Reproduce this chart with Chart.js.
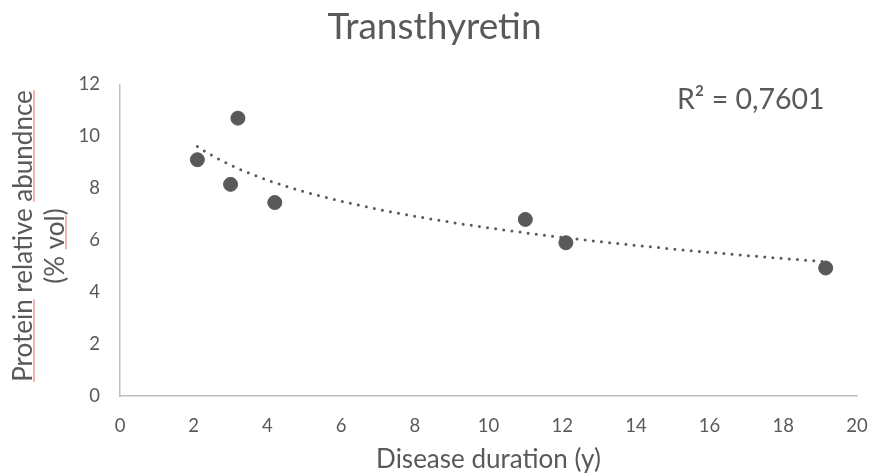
<!DOCTYPE html>
<html>
<head>
<meta charset="utf-8">
<title>Transthyretin</title>
<script src="https://cdn.jsdelivr.net/npm/chart.js@4"></script>
<style>
  html, body { margin: 0; padding: 0; background: #fff; }
  #chart { display: block; }
</style>
</head>
<body>
<canvas id="chart" width="874" height="475"></canvas>
<script>
// disease duration (years) vs. transthyretin abundance (% vol)
const durations = [2.1, 3.0, 3.2, 4.2, 11.0, 12.1, 19.15];
const abundance = [9.1, 8.15, 10.7, 7.45, 6.8, 5.9, 4.93];
const xRange = [0, 20];
const yRange = [0, 12];
const tickStep = 2;
const rSquaredLabel = 'R² = 0,7601';
const yTitleLines = ['Protein relative abundnce', '(% vol)'];
// words flagged by the spell checker (red underline)
const flaggedWords = [['Protein', 'abundnce'], ['vol']];

const TEXT = '#595959';
const FONT = 'Lato';

// least squares fit of y = a*ln(x) + b
function logFit(xs, ys) {
  const lx = xs.map(Math.log);
  const n = xs.length;
  const mx = lx.reduce((s, v) => s + v, 0) / n;
  const my = ys.reduce((s, v) => s + v, 0) / n;
  let sxy = 0, sxx = 0;
  for (let i = 0; i < n; i++) {
    sxy += (lx[i] - mx) * (ys[i] - my);
    sxx += (lx[i] - mx) * (lx[i] - mx);
  }
  const a = sxy / sxx;
  return { a, b: my - a * mx };
}

const fit = logFit(durations, abundance);
const xMin = Math.min(...durations);
const xMax = Math.max(...durations);
const trendPoints = [];
for (let i = 0; i <= 80; i++) {
  const x = xMin + (xMax - xMin) * i / 80;
  trendPoints.push({ x, y: fit.a * Math.log(x) + fit.b });
}

const extraText = {
  id: 'extraText',
  afterDraw(chart) {
    const { ctx } = chart;
    ctx.save();
    ctx.fillStyle = TEXT;

    // trendline label
    ctx.font = `28.5px ${FONT}`;
    ctx.textAlign = 'left';
    ctx.textBaseline = 'alphabetic';
    ctx.fillText(rSquaredLabel, 677, 109);

    // y axis title, two lines, rotated
    ctx.font = `26px ${FONT}`;
    const baselines = [32, 64];
    const centers = [236, 246];
    yTitleLines.forEach((line, i) => {
      ctx.save();
      ctx.translate(baselines[i], centers[i]);
      ctx.rotate(-Math.PI / 2);
      ctx.textAlign = 'left';
      const w = ctx.measureText(line).width;
      const start = -w / 2;
      ctx.fillStyle = TEXT;
      ctx.fillText(line, start, 0);
      ctx.strokeStyle = '#F06060';
      ctx.lineWidth = 1;
      flaggedWords[i].forEach(word => {
        const at = line.indexOf(word);
        const x0 = start + ctx.measureText(line.slice(0, at)).width;
        const x1 = x0 + ctx.measureText(word).width;
        ctx.beginPath();
        ctx.moveTo(x0, 2);
        ctx.lineTo(x1, 2);
        ctx.stroke();
      });
      ctx.restore();
    });
    ctx.restore();
  }
};

new Chart(document.getElementById('chart'), {
  type: 'scatter',
  data: {
    datasets: [
      {
        label: 'Transthyretin',
        data: durations.map((x, i) => ({ x, y: abundance[i] })),
        pointRadius: 7,
        pointBorderWidth: 1,
        backgroundColor: TEXT,
        borderColor: TEXT,
        order: 1
      },
      {
        label: 'Log trend',
        data: trendPoints,
        showLine: true,
        pointRadius: 0,
        borderColor: TEXT,
        borderWidth: 3,
        borderDash: [0, 8.2],
        borderCapStyle: 'round',
        tension: 0,
        order: 2
      }
    ]
  },
  options: {
    responsive: false,
    animation: false,
    layout: { padding: { left: 0, right: 5, top: 0, bottom: 0 } },
    plugins: {
      legend: { display: false },
      tooltip: { enabled: false },
      title: {
        display: true,
        text: 'Transthyretin',
        color: TEXT,
        font: { family: FONT, size: 37, weight: 'normal', lineHeight: 1.2 },
        padding: { top: 5, bottom: 35 }
      }
    },
    scales: {
      x: {
        type: 'linear',
        min: xRange[0],
        max: xRange[1],
        afterFit: s => {
          s.height = 79;
          s.paddingLeft = 0;
          s.paddingRight = 17;
        },
        grid: { display: false, drawTicks: false },
        border: { display: true, color: '#BFBFBF', width: 1.5 },
        ticks: {
          stepSize: tickStep,
          padding: 19,
          color: TEXT,
          font: { family: FONT, size: 18.5 }
        },
        title: {
          display: true,
          text: 'Disease duration (y)',
          color: TEXT,
          font: { family: FONT, size: 26, lineHeight: 1.2 },
          padding: { top: 0, bottom: 0 }
        }
      },
      y: {
        type: 'linear',
        min: yRange[0],
        max: yRange[1],
        afterFit: s => { s.width = 120; },
        grid: { display: false, drawTicks: false },
        border: { display: true, color: '#BFBFBF', width: 1.5 },
        ticks: {
          stepSize: tickStep,
          padding: 20,
          color: TEXT,
          font: { family: FONT, size: 18.5 }
        }
      }
    }
  },
  plugins: [extraText]
});
</script>
</body>
</html>
